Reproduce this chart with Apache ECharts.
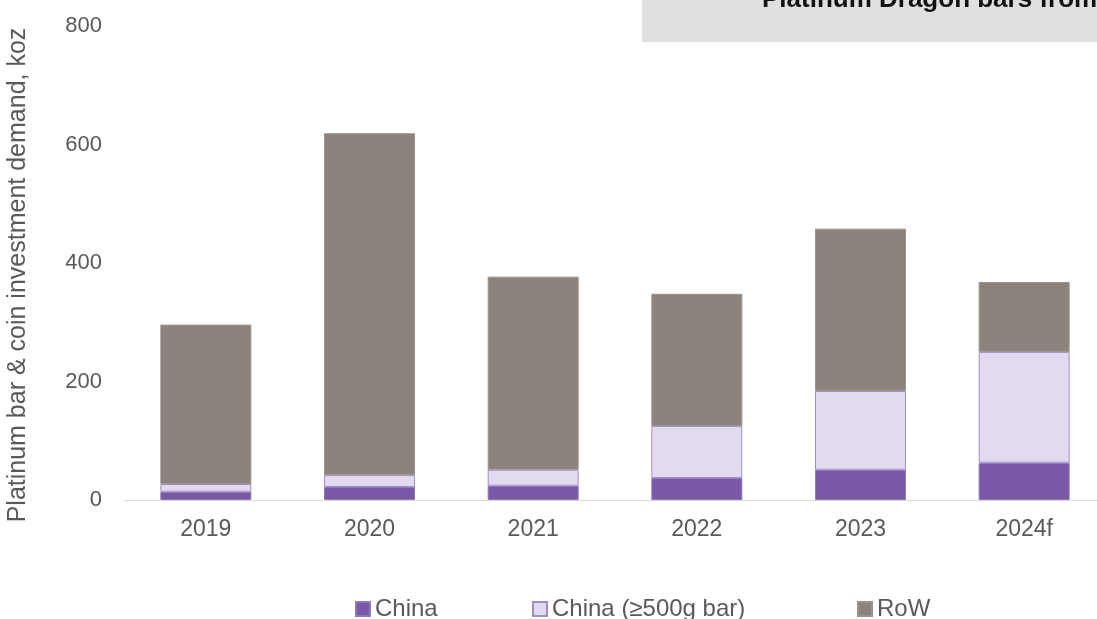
<!DOCTYPE html>
<html>
<head>
<meta charset="utf-8">
<script src="https://cdn.jsdelivr.net/npm/echarts@6/dist/echarts.min.js"></script>
<style>
  html, body { margin: 0; padding: 0; background: #fff; }
  #chart { width: 1097px; height: 619px; }
</style>
</head>
<body>
<div id="chart"></div>
<script>
const years = ['2019', '2020', '2021', '2022', '2023', '2024f']
const china = [14, 22, 24, 37, 51, 63]
const chinaBigBar = [13, 20, 27, 88, 133, 187]
const restOfWorld = [269, 577, 326, 223, 274, 118]
const yTicks = { min: 0, max: 800, step: 200 }

const textGrey = '#595959'
const font = 'Liberation Sans'

// one legend per item so each one sits where the original has it
function legendAt(name, left) {
    return {
        data: [name],
        left: left,
        top: 597,
        padding: 0,
        itemWidth: 14,
        itemHeight: 14,
        icon: 'rect',
        textStyle: { color: textGrey, fontSize: 24, fontFamily: font }
    }
}

const chart = echarts.init(document.getElementById('chart'))
chart.setOption({
    animation: false,
    grid: { left: 124, width: 982, top: 26, bottom: 119, outerBoundsMode: 'none' },
    legend: [
        legendAt('China', 355),
        legendAt('China (≥500g bar)', 532),
        legendAt('RoW', 857)
    ],
    xAxis: {
        type: 'category',
        data: years,
        axisLine: { lineStyle: { color: '#d9d9d9' } },
        axisTick: { show: false },
        axisLabel: { color: textGrey, fontSize: 23, margin: 18, fontFamily: font }
    },
    yAxis: {
        type: 'value',
        min: yTicks.min,
        max: yTicks.max,
        interval: yTicks.step,
        name: 'Platinum bar & coin investment demand, koz',
        nameLocation: 'middle',
        nameGap: 93,
        nameTextStyle: { color: textGrey, fontSize: 25, fontFamily: font, padding: [0, 24, 0, 0] },
        splitLine: { show: false },
        axisLine: { show: false },
        axisLabel: { color: textGrey, fontSize: 22, margin: 22, fontFamily: font }
    },
    series: [
        {
            name: 'China',
            type: 'bar',
            stack: 'total',
            barWidth: 91,
            data: china,
            itemStyle: { color: '#7b57a8', borderColor: '#8b7ab8', borderWidth: 1 }
        },
        {
            name: 'China (≥500g bar)',
            type: 'bar',
            stack: 'total',
            data: chinaBigBar,
            itemStyle: { color: '#e3daf0', borderColor: '#9d8fc6', borderWidth: 1 }
        },
        {
            name: 'RoW',
            type: 'bar',
            stack: 'total',
            data: restOfWorld,
            itemStyle: { color: '#8c847c', borderColor: '#9a928b', borderWidth: 1 }
        }
    ],
    graphic: [
        {
            type: 'rect',
            shape: { x: 642, y: 0, width: 460, height: 42 },
            style: { fill: '#e0e0e0' }
        },
        {
            type: 'text',
            x: 762,
            y: 0,
            style: {
                text: 'Platinum Dragon bars from',
                fill: '#111',
                font: 'bold 26px "Liberation Sans"',
                textVerticalAlign: 'middle'
            }
        }
    ]
})
</script>
</body>
</html>
